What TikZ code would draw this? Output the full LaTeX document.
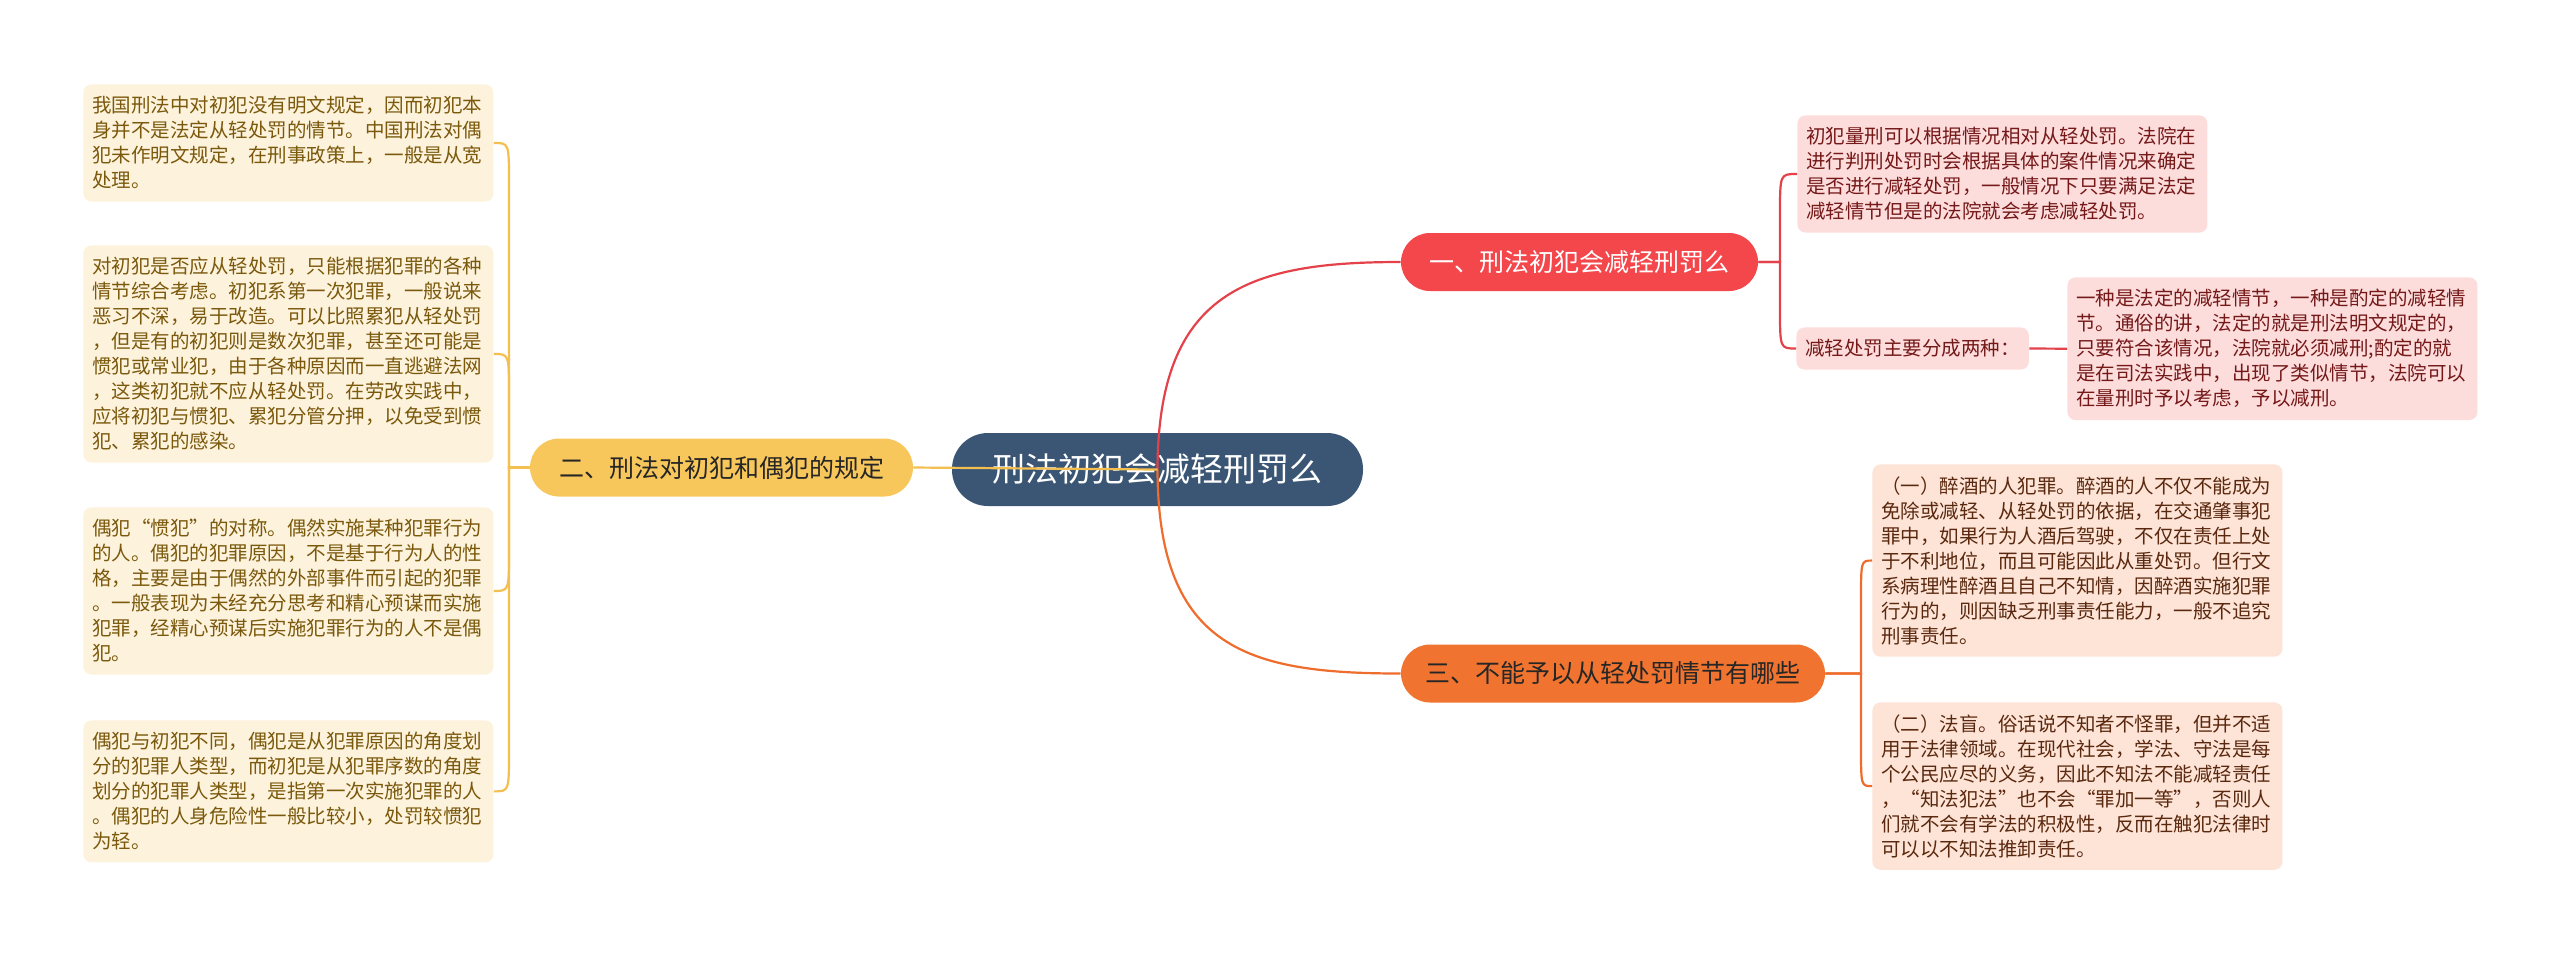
\documentclass[tikz,border=0pt]{standalone}
\usepackage{fontspec}
\setmainfont{Noto Sans CJK SC}
\usetikzlibrary{calc}

\definecolor{hubfill}{HTML}{3A5674}
\definecolor{redfill}{HTML}{F4474C}
\definecolor{yelfill}{HTML}{F8C75B}
\definecolor{orgfill}{HTML}{F07430}
\definecolor{redleaf}{HTML}{FDDCDC}
\definecolor{yelleaf}{HTML}{FDF3DC}
\definecolor{orgleaf}{HTML}{FDE4D7}
\definecolor{redtext}{HTML}{741818}
\definecolor{yeltext}{HTML}{7A580C}
\definecolor{orgtext}{HTML}{5A280E}
\definecolor{redline}{HTML}{E4424A}
\definecolor{yelline}{HTML}{F4BF4E}
\definecolor{orgline}{HTML}{EE6C2C}

\begin{document}
\begin{tikzpicture}[x=0.5pt, y=-0.5pt,
    hub/.style={fill=hubfill, text=white, rounded corners=18pt, inner sep=0pt,
      minimum width=205.5pt, minimum height=36.5pt, font=\fontsize{16.5}{20}\selectfont},
    topic/.style={rounded corners=14.5pt, inner sep=0pt, minimum height=29pt,
      font=\fontsize{12.5}{15}\selectfont},
    leaf/.style={rounded corners=4pt, anchor=north west, align=left, text width=196pt,
      inner xsep=4.5pt, inner ysep=6pt, font=\fontsize{9.75}{12.5}\selectfont},
    yleaf/.style={leaf, fill=yelleaf, text=yeltext},
    rleaf/.style={leaf, fill=redleaf, text=redtext},
    oleaf/.style={leaf, fill=orgleaf, text=orgtext},
    yconn/.style={draw=yelline, line width=1.1pt},
    rconn/.style={draw=redline, line width=1.1pt},
    oconn/.style={draw=orgline, line width=1.1pt}]
  \useasboundingbox (0,0) rectangle (2560,955);

  % Center node
  \node[hub] (center) at (1157.5,469.5) {刑法初犯会减轻刑罚么};

  % Topics
  \node[topic, fill=redfill, text=white, minimum width=178.5pt] (b1) at (1579.5,262) {一、刑法初犯会减轻刑罚么};
  \node[topic, fill=yelfill, text=black!85, minimum width=191.5pt] (b2) at (721.5,467.5) {二、刑法对初犯和偶犯的规定};
  \node[topic, fill=orgfill, text=black!85, minimum width=212pt] (b3) at (1613,673.5) {三、不能予以从轻处罚情节有哪些};

  % Junctions
  \coordinate (j1) at (1780,262);
  \coordinate (j2) at (509,467.5);
  \coordinate (j3) at (1861,673.5);

  % Leaves left column
  \node[yleaf] (l1) at (83,84) {我国刑法中对初犯没有明文规定，因而初犯本\\
    身并不是法定从轻处罚的情节。中国刑法对偶\\
    犯未作明文规定，在刑事政策上，一般是从宽\\
    处理。};
  \node[yleaf] (l2) at (83,245) {对初犯是否应从轻处罚，只能根据犯罪的各种\\
    情节综合考虑。初犯系第一次犯罪，一般说来\\
    恶习不深，易于改造。可以比照累犯从轻处罚\\
    ，但是有的初犯则是数次犯罪，甚至还可能是\\
    惯犯或常业犯，由于各种原因而一直逃避法网\\
    ，这类初犯就不应从轻处罚。在劳改实践中，\\
    应将初犯与惯犯、累犯分管分押，以免受到惯\\
    犯、累犯的感染。};
  \node[yleaf] (l3) at (83,507) {偶犯“惯犯”的对称。偶然实施某种犯罪行为\\
    的人。偶犯的犯罪原因，不是基于行为人的性\\
    格，主要是由于偶然的外部事件而引起的犯罪\\
    。一般表现为未经充分思考和精心预谋而实施\\
    犯罪，经精心预谋后实施犯罪行为的人不是偶\\
    犯。};
  \node[yleaf] (l4) at (83,720) {偶犯与初犯不同，偶犯是从犯罪原因的角度划\\
    分的犯罪人类型，而初犯是从犯罪序数的角度\\
    划分的犯罪人类型，是指第一次实施犯罪的人\\
    。偶犯的人身危险性一般比较小，处罚较惯犯\\
    为轻。};

  % Leaves right column
  \node[rleaf] (r1) at (1797,115) {初犯量刑可以根据情况相对从轻处罚。法院在\\
    进行判刑处罚时会根据具体的案件情况来确定\\
    是否进行减轻处罚，一般情况下只要满足法定\\
    减轻情节但是的法院就会考虑减轻处罚。};
  \node[rleaf, text width=, anchor=west] (r2) at (1796,348.5) {减轻处罚主要分成两种：};
  \node[rleaf] (r2a) at (2067,277) {一种是法定的减轻情节，一种是酌定的减轻情\\
    节。通俗的讲，法定的就是刑法明文规定的，\\
    只要符合该情况，法院就必须减刑;酌定的就\\
    是在司法实践中，出现了类似情节，法院可以\\
    在量刑时予以考虑，予以减刑。};
  \node[oleaf] (r3a) at (1872,464) {（一）醉酒的人犯罪。醉酒的人不仅不能成为\\
    免除或减轻、从轻处罚的依据，在交通肇事犯\\
    罪中，如果行为人酒后驾驶，不仅在责任上处\\
    于不利地位，而且可能因此从重处罚。但行文\\
    系病理性醉酒且自己不知情，因醉酒实施犯罪\\
    行为的，则因缺乏刑事责任能力，一般不追究\\
    刑事责任。};
  \node[oleaf] (r3b) at (1872,702) {（二）法盲。俗话说不知者不怪罪，但并不适\\
    用于法律领域。在现代社会，学法、守法是每\\
    个公民应尽的义务，因此不知法不能减轻责任\\
    ，“知法犯法”也不会“罪加一等”，否则人\\
    们就不会有学法的积极性，反而在触犯法律时\\
    可以以不知法推卸责任。};

  % Center to topics
  \draw[rconn] (center.center) .. controls (1158,290) and (1250,262) .. (b1.west);
  \draw[oconn] (center.center) .. controls (1158,650) and (1250,673.5) .. (b3.west);
  \draw[yconn] (center.center) -- (b2.east);

  % Topics to leaves
  \foreach \l/\dy in {l1/40, l2/40, l3/-40, l4/-40}
    {\draw[yconn] (b2.west) -- (j2) -- ($(j2 |- \l.east)+(0,\dy)$) .. controls (j2 |- \l.east) .. (\l.east);}
  \foreach \l/\dy in {r1/40, r2/-40}
    {\draw[rconn] (b1.east) -- (j1) -- ($(j1 |- \l.west)+(0,\dy)$) .. controls (j1 |- \l.west) .. (\l.west);}
  \foreach \l/\dy in {r3a/40, r3b/-40}
    {\draw[oconn] (b3.east) -- (j3) -- ($(j3 |- \l.west)+(0,\dy)$) .. controls (j3 |- \l.west) .. (\l.west);}
  \draw[rconn] (r2.east) -- (r2a.west);
\end{tikzpicture}
\end{document}
